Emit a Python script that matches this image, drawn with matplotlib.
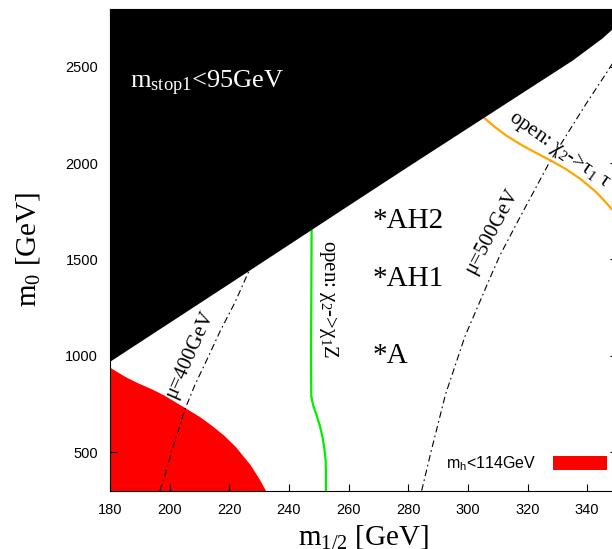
import matplotlib
matplotlib.use('Agg')
import matplotlib.pyplot as plt
from matplotlib.patches import Patch

plt.rcParams['font.family'] = 'Liberation Sans'
plt.rcParams['mathtext.fontset'] = 'stix'

serif = 'Liberation Serif'

# region boundaries and contours, (m_1/2, m_0) in GeV
stop_x = [180, 200, 220, 240, 260, 280, 300, 320, 335, 345, 350]
stop_y = [973, 1175, 1377, 1580, 1783, 1985, 2185, 2385, 2535, 2650, 2720]

higgs_x = [180, 185, 189, 194, 198, 205, 210, 214, 218, 222, 227, 230, 232.2]
higgs_y = [940, 893, 862, 828, 797, 732, 685, 640, 590, 530, 435, 362, 300]

chi2z_x = [247.6, 247.5, 247.4, 247.5, 248.1, 249.2, 250.4, 251.3, 251.9, 252.3, 252.4, 252.4]
chi2z_y = [1663, 1300, 1000, 790, 745, 695, 635, 575, 515, 460, 400, 300]

chi2tau_x = [305.6, 309, 313, 318, 323, 328, 333, 338, 343, 347.5, 350]
chi2tau_y = [2233, 2188, 2142, 2094, 2052, 2012, 1968, 1915, 1850, 1775, 1728]

mu400_x = [196.75, 198.8, 201.0, 205.1, 208.5, 212.5, 217.0, 221.9, 226.9]
mu400_y = [300, 400, 520, 721, 850, 980, 1130, 1277, 1451]

mu500_x = [284.5, 287.6, 292.5, 299.0, 307.3, 310.7, 316.8, 327.2, 339.3, 345.3, 352]
mu500_y = [300, 500, 800, 1100, 1400, 1520, 1700, 2000, 2300, 2441, 2600]

# benchmark points
point_names = ['A', 'AH1', 'AH2']
point_x = [268, 268, 268]
point_y = [1000, 1400, 1700]

xticks = [180, 200, 220, 240, 260, 280, 300, 320, 340]
yticks = [500, 1000, 1500, 2000, 2500]

fig = plt.figure(figsize=(6.12, 5.49), dpi=100)
ax = fig.add_axes([110 / 612, 58.3 / 549, 507 / 612, 481.7 / 549])

ax.fill_between(higgs_x, 300, higgs_y, color='#ff0000', lw=0, zorder=1)
dd = (0, (6, 3, 1.5, 3))
ax.plot(mu400_x, mu400_y, color='black', lw=0.8, ls=dd, zorder=2)
ax.plot(mu500_x, mu500_y, color='black', lw=0.8, ls=dd, zorder=2)
ax.plot(chi2z_x, chi2z_y, color='#00ee00', lw=1.6, zorder=2)
ax.plot(chi2tau_x, chi2tau_y, color='#ffa500', lw=1.6, zorder=2)
ax.fill_between(stop_x, stop_y, 2800, color='black', lw=0, zorder=3)

ax.text(186.7, 2415, r'$\mathregular{m_{stop1}}$<95GeV', color='white',
        fontsize=19, family=serif, va='center', zorder=4)
for name, px, py in zip(point_names, point_x, point_y):
    ax.text(px, py, '*' + name, fontsize=21, family=serif, va='center')

ax.text(206.6, 1007, 'μ=400GeV', fontsize=15, family=serif, rotation=66,
        ha='center', va='center')
ax.text(307.9, 1646, 'μ=500GeV', fontsize=15, family=serif, rotation=62,
        ha='center', va='center')
ax.text(253.4, 1294, r'open: $\mathregular{χ_2}$->$\mathregular{χ_1}$Z',
        fontsize=15, family=serif, rotation=-90, ha='center', va='center')
ax.text(313.5, 2228, r'open: $\mathregular{χ_2}$->$\mathregular{τ_1}$ τ',
        fontsize=15, family=serif, rotation=-35, rotation_mode='anchor',
        ha='left', va='baseline')

ax.legend(handles=[Patch(facecolor='#ff0000', label=r'$\mathregular{m_h}$<114GeV')],
          loc='lower right', bbox_to_anchor=(0.98, 0.036), frameon=False,
          markerfirst=False, borderpad=0, borderaxespad=0, handlelength=3.4,
          handleheight=1.0, handletextpad=1.0, prop={'size': 11.5})

ax.set_xlim(180, 350)
ax.set_ylim(300, 2800)
ax.set_xticks(xticks)
ax.set_yticks(yticks)
ax.tick_params(direction='in', length=5, width=0.8, top=True, right=True,
               labelsize=10.5, pad=8.5)
for s in ax.spines.values():
    s.set_linewidth(0.8)
    s.set_zorder(5)

ax.set_xlabel(r'$\mathregular{m_{1/2}}$ [GeV]', fontsize=21, family=serif, labelpad=5)
ax.set_ylabel(r'$\mathregular{m_0}$ [GeV]', fontsize=21, family=serif, labelpad=17)

fig.savefig('out.png', dpi=100)
